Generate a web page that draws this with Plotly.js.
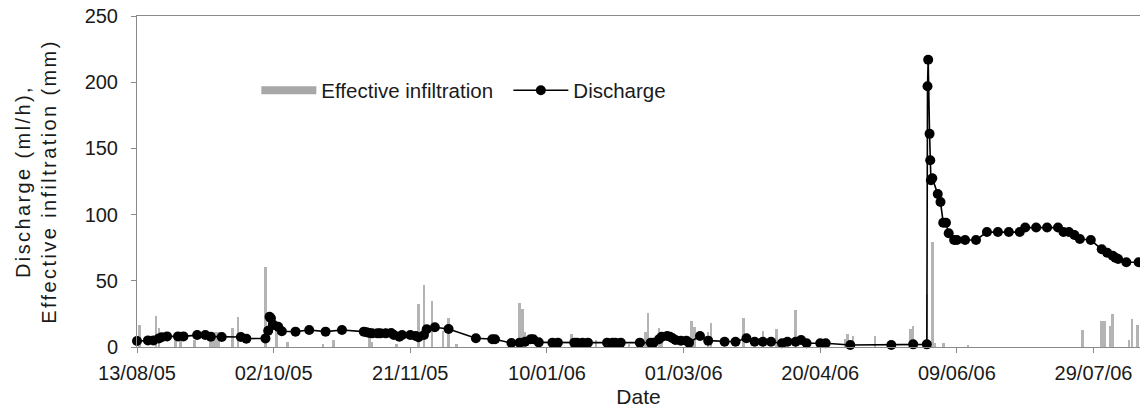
<!DOCTYPE html>
<html>
<head>
<meta charset="utf-8">
<script src="https://cdn.plot.ly/plotly-3.0.1.min.js"></script>
<style>
html,body{margin:0;padding:0;background:#fff;}
#chart{width:1140px;height:411px;}
#chart .ytitle{letter-spacing:2.4px;}
</style>
</head>
<body>
<div id="chart"></div>
<script>
// Discharge (ml/h)
const dischargeDates = [
"2005-08-13","2005-08-17","2005-08-19","2005-08-21","2005-08-22","2005-08-24","2005-08-28","2005-08-30",
"2005-09-04","2005-09-07","2005-09-09","2005-09-13","2005-09-20","2005-09-22","2005-09-29","2005-09-30",
"2005-09-30 12:00","2005-10-01","2005-10-02","2005-10-03 16:00","2005-10-05","2005-10-10","2005-10-15","2005-10-21",
"2005-10-27","2005-11-04","2005-11-05","2005-11-06","2005-11-07","2005-11-09","2005-11-10","2005-11-12",
"2005-11-14","2005-11-15","2005-11-17","2005-11-18","2005-11-21","2005-11-23","2005-11-24","2005-11-26",
"2005-11-27","2005-11-30","2005-12-05","2005-12-15","2005-12-21","2005-12-22","2005-12-28","2005-12-31",
"2006-01-02","2006-01-04","2006-01-05","2006-01-07","2006-01-12","2006-01-14","2006-01-20","2006-01-21",
"2006-01-23","2006-01-25","2006-02-01","2006-02-03","2006-02-04","2006-02-06","2006-02-13","2006-02-17",
"2006-02-18","2006-02-20","2006-02-21","2006-02-23","2006-02-24","2006-02-25","2006-02-26","2006-02-28",
"2006-03-02","2006-03-03","2006-03-07","2006-03-10","2006-03-16","2006-03-20","2006-03-24","2006-03-27",
"2006-03-30","2006-04-02","2006-04-06","2006-04-08","2006-04-11","2006-04-13","2006-04-15","2006-04-20",
"2006-04-22","2006-05-01","2006-05-16","2006-05-24","2006-05-29","2006-05-29 06:00","2006-05-29 12:00","2006-05-30",
"2006-05-30 06:00","2006-05-30 12:00","2006-05-31","2006-06-02","2006-06-03","2006-06-04","2006-06-05","2006-06-06",
"2006-06-08","2006-06-09","2006-06-12","2006-06-16","2006-06-20","2006-06-24","2006-06-28","2006-07-02",
"2006-07-04","2006-07-08","2006-07-12","2006-07-16","2006-07-18","2006-07-20","2006-07-22","2006-07-24",
"2006-07-28","2006-08-01","2006-08-03","2006-08-05","2006-08-06","2006-08-07","2006-08-10","2006-08-14 12:00"
];
const dischargeValues = [
4.5,5,5,6.5,7.3,8,8,8,
9,9,7.8,7.5,7.5,6.3,6.5,12.3,
22.9,21.7,16.6,15.3,11.9,11.6,12.8,11.6,
12.8,11.6,11.1,10.6,10.3,10.3,10.3,10.3,
10.6,9.1,7.8,9.1,9.1,8.3,7.3,9.1,
13.4,14.9,13.6,6.6,5.8,5.8,3,3.3,
4,5.8,5.8,3.5,3.3,3.3,3.3,3.3,
3.3,3.3,3.3,3.3,3.3,3.3,3.3,3.3,
3.3,5.8,7.8,8.3,7.8,6.6,5.3,4.8,
4.8,3.3,8.3,4.8,4,4,6.6,4,
4,4,2.8,4,4,5.3,2.8,2.8,
2.8,1.5,1.5,2,2,197,217,161,
141,126,127.4,115.5,109.5,93.9,93.9,85.9,
80.8,80.8,80.8,80.8,86.8,86.8,86.8,86.8,
90.2,90.2,90.2,90.2,86.8,86.8,84.6,81.6,
80.8,73.8,71.2,69,67.5,66.5,64,64
];

// Effective infiltration (mm)
const infiltrationDates = [
"2005-08-14","2005-08-20","2005-08-21","2005-08-27","2005-08-29","2005-09-03","2005-09-09","2005-09-10",
"2005-09-11","2005-09-12","2005-09-17","2005-09-19","2005-09-29","2005-10-03","2005-10-07","2005-10-20",
"2005-10-24","2005-11-06","2005-11-07","2005-11-16","2005-11-24","2005-11-26","2005-11-29","2005-12-03",
"2005-12-05","2005-12-08","2005-12-31","2006-01-01","2006-01-02","2006-01-19","2006-01-28","2006-02-09",
"2006-02-15","2006-02-16","2006-02-20","2006-02-21","2006-03-04","2006-03-05","2006-03-10","2006-03-11",
"2006-03-23","2006-03-30","2006-04-04","2006-04-07","2006-04-11","2006-04-29","2006-04-30","2006-05-02",
"2006-05-10","2006-05-23","2006-05-24","2006-05-29","2006-05-31","2006-06-01","2006-06-04","2006-06-13",
"2006-07-25","2006-08-01","2006-08-02","2006-08-04","2006-08-05","2006-08-11","2006-08-12","2006-08-14"
];
const infiltrationValues = [
16.4,23.5,14,5,5,5.5,11,11,
11,11,14,22.4,60.5,13,4,2,
5,6.6,4,2,32.6,47,35,12,
21.6,2,33.5,28.5,11,10,5,2,
11,25.5,14.5,11.5,19.5,15,11,18.5,
22,12,13.5,7,28,6,9.5,8,
8,13.5,16,40,79.5,2.8,2.8,1.5,
13,20,20,16,25,5.5,21,16.5
];

const seriesNames = ["Effective infiltration", "Discharge"];
const axisTitles = {x: "Date", y: "Discharge (ml/h),<br>Effective infiltration (mm)"};
const DAY = 86400000;

const font = "Liberation Sans, Arial, sans-serif";
const txt = "#1a1a1a";
const axisCol = "#8a8a8a";
const barCol = "#b4b4b4";

const traces = [
  {
    type: "bar", x: infiltrationDates, y: infiltrationValues, name: seriesNames[0],
    width: DAY * 0.95, marker: {color: barCol, line: {width: 0}}, showlegend: false, hoverinfo: "x+y"
  },
  {
    type: "scatter", mode: "lines", x: [null], y: [null], name: seriesNames[0],
    line: {color: "#a8a8a8", width: 8}, showlegend: true, hoverinfo: "skip"
  },
  {
    type: "scatter", mode: "lines+markers", x: dischargeDates, y: dischargeValues, name: seriesNames[1],
    line: {color: "#000", width: 1.6}, marker: {color: "#000", size: 10}, cliponaxis: false
  }
];

const layout = {
  width: 1140, height: 411,
  margin: {l: 137, r: 0, t: 16, b: 64},
  paper_bgcolor: "#fff", plot_bgcolor: "#fff",
  font: {family: font, size: 20, color: txt},
  showlegend: true,
  legend: {
    orientation: "h", x: 0.119, y: 0.775, xanchor: "left", yanchor: "middle",
    font: {family: font, size: 20.5, color: txt}, bgcolor: "rgba(0,0,0,0)", itemwidth: 55,
    entrywidth: 182, entrywidthmode: "pixels"
  },
  xaxis: {
    type: "date", range: ["2005-08-13", "2006-08-15"],
    tick0: "2005-08-13", dtick: 50 * DAY, tickformat: "%d/%m/%y",
    ticks: "outside", ticklen: 5, tickcolor: axisCol, tickwidth: 1,
    showline: true, linecolor: axisCol, linewidth: 1, mirror: true,
    showgrid: false, zeroline: false, ticklabelstandoff: 3,
    tickfont: {family: font, size: 20, color: txt},
    title: {text: axisTitles.x, font: {family: font, size: 21, color: txt}, standoff: 6}
  },
  yaxis: {
    range: [0, 250], dtick: 50, tick0: 0,
    ticks: "outside", ticklen: 5, tickcolor: axisCol, tickwidth: 1,
    showline: true, linecolor: axisCol, linewidth: 1,
    showgrid: false, zeroline: false, ticklabelstandoff: 9,
    tickfont: {family: font, size: 20, color: txt},
    title: {text: axisTitles.y, font: {family: font, size: 20, color: txt}, standoff: 22}
  },
  bargap: 0
};

Plotly.newPlot("chart", traces, layout, {displayModeBar: false, staticPlot: true});
</script>
</body>
</html>
